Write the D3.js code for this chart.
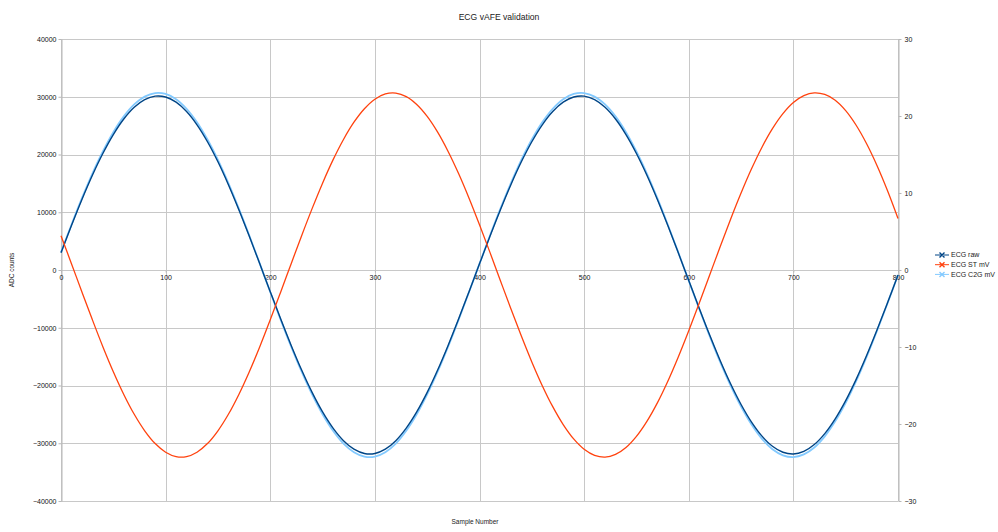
<!DOCTYPE html>
<html>
<head>
<meta charset="utf-8">
<script src="https://cdn.jsdelivr.net/npm/d3@7"></script>
<style>
  body { margin: 0; background: #fff; }
  text { font-family: "Liberation Sans", Arial, sans-serif; fill: #222; }
</style>
</head>
<body>
<script>
'use strict';

// sample index of each reading
const samples = [0,10,20,30,40,50,60,70,80,90,100,110,120,130,140,150,160,170,180,190,
  200,210,220,230,240,250,260,270,280,290,300,310,320,330,340,350,360,370,380,390,
  400,410,420,430,440,450,460,470,480,490,500,510,520,530,540,550,560,570,580,590,
  600,610,620,630,640,650,660,670,680,690,700,710,720,730,740,750,760,770,780,790,800];

// ECG raw, ADC counts (left axis)
const ecgRaw = [2982,7700,12214,16411,20178,23451,26142,28173,29503,30101,
  29952,29056,27441,25144,22208,18733,14775,10438,5831,1063,
  -3754,-8500,-13064,-17329,-21201,-24580,-27382,-29552,-31025,-31772,
  -31772,-31025,-29552,-27382,-24580,-21201,-17329,-13064,-8500,-3754,
  1063,5831,10438,14775,18733,22208,25144,27441,29056,29952,
  30101,29503,28173,26142,23451,20178,16411,12214,7700,2982,
  -1829,-6616,-11266,-15664,-19704,-23284,-26335,-28765,-30523,-31561,
  -31862,-31412,-30225,-28331,-25774,-22618,-18935,-14809,-10354,-5667,-865];

// ECG ST, mV (right axis)
const ecgST = [4.46,0.82,-2.85,-6.47,-9.96,-13.21,-16.16,-18.74,-20.88,-22.54,
  -23.66,-24.23,-24.23,-23.66,-22.54,-20.88,-18.74,-16.16,-13.21,-9.96,
  -6.47,-2.85,0.82,4.46,7.97,11.28,14.30,16.95,19.19,20.94,
  22.18,22.86,22.97,22.52,21.50,19.95,17.90,15.40,12.53,9.33,
  5.88,2.29,-1.39,-5.04,-8.58,-11.94,-15.02,-17.75,-20.08,-21.94,
  -23.28,-24.07,-24.30,-23.95,-23.05,-21.60,-19.65,-17.25,-14.44,-11.29,
  -7.89,-4.31,-0.65,3.01,6.59,9.99,13.14,15.95,18.35,20.30,
  21.75,22.65,23.00,22.80,22.05,20.70,18.80,16.40,13.55,10.30,6.70];

// ECG C2G, mV (right axis)
const ecgC2G = [2.29,5.88,9.33,12.53,15.40,17.90,19.95,21.50,22.52,22.97,
  22.86,22.18,20.94,19.19,16.95,14.30,11.28,7.97,4.46,0.82,
  -2.85,-6.47,-9.96,-13.21,-16.16,-18.74,-20.88,-22.54,-23.66,-24.23,
  -24.23,-23.66,-22.54,-20.88,-18.74,-16.16,-13.21,-9.96,-6.47,-2.85,
  0.82,4.46,7.97,11.28,14.30,16.95,19.19,20.94,22.18,22.86,
  22.97,22.52,21.50,19.95,17.90,15.40,12.53,9.33,5.88,2.29,
  -1.39,-5.04,-8.58,-11.94,-15.02,-17.75,-20.08,-21.94,-23.28,-24.07,
  -24.30,-23.95,-23.05,-21.60,-19.65,-17.25,-14.44,-11.29,-7.89,-4.31,-0.65];

const xTicks = [0,100,200,300,400,500,600,700,800];
const leftTicks = [-40000,-30000,-20000,-10000,0,10000,20000,30000,40000];
const rightTicks = [-30,-20,-10,0,10,20,30];
const seriesNames = ['ECG raw', 'ECG ST mV', 'ECG C2G mV'];
const seriesColors = ['#004586', '#ff420e', '#83caff'];

const width = 998, height = 532;
const plotLeft = 61, plotRight = 898, plotTop = 39, plotBottom = 501;

const svg = d3.select('body').append('svg')
  .attr('width', width)
  .attr('height', height);

const x = d3.scaleLinear().domain([0, 800]).range([plotLeft, plotRight]);
const yLeft = d3.scaleLinear().domain([-40000, 40000]).range([plotBottom, plotTop]);
const yRight = d3.scaleLinear().domain([-30, 30]).range([plotBottom, plotTop]);

// title
svg.append('text')
  .attr('x', 499)
  .attr('y', 20)
  .attr('text-anchor', 'middle')
  .style('font-size', '8.6px')
  .text('ECG vAFE validation');

// grid
const grid = svg.append('g').attr('stroke', '#c8c8c8').attr('stroke-width', 1);
grid.selectAll('.hgrid')
  .data(leftTicks)
  .enter().append('line')
    .attr('x1', plotLeft).attr('x2', plotRight)
    .attr('y1', d => Math.round(yLeft(d)) + 0.5)
    .attr('y2', d => Math.round(yLeft(d)) + 0.5);
grid.selectAll('.vgrid')
  .data(xTicks)
  .enter().append('line')
    .attr('y1', plotTop).attr('y2', plotBottom)
    .attr('x1', d => Math.round(x(d)) + 0.5)
    .attr('x2', d => Math.round(x(d)) + 0.5);

function styleAxis(g) {
  g.selectAll('path').attr('stroke', '#b8b8b8');
  g.selectAll('line').attr('stroke', '#b8b8b8');
  g.selectAll('text').style('font-size', '7px').style('fill', '#111');
}

// left axis
svg.append('g')
  .attr('transform', 'translate(' + (plotLeft + 0.5) + ',0)')
  .call(d3.axisLeft(yLeft).tickValues(leftTicks).tickFormat(d3.format('d'))
    .tickSize(3).tickSizeOuter(0).tickPadding(2))
  .call(styleAxis);

// right axis
svg.append('g')
  .attr('transform', 'translate(' + (plotRight + 0.5) + ',0)')
  .call(d3.axisRight(yRight).tickValues(rightTicks).tickFormat(d3.format('d'))
    .tickSize(3).tickSizeOuter(0).tickPadding(3))
  .call(styleAxis);

// x axis on the zero line
svg.append('g')
  .attr('transform', 'translate(0,' + (Math.round(yLeft(0)) + 0.5) + ')')
  .call(d3.axisBottom(x).tickValues(xTicks).tickSize(2).tickSizeOuter(0).tickPadding(3))
  .call(styleAxis)
  .call(g => g.select('.domain').remove());

// axis titles
svg.append('text')
  .attr('transform', 'translate(14,' + ((plotTop + plotBottom) / 2) + ')rotate(-90)')
  .attr('text-anchor', 'middle')
  .style('font-size', '6.5px')
  .text('ADC counts');

svg.append('text')
  .attr('x', 475)
  .attr('y', 524)
  .attr('text-anchor', 'middle')
  .style('font-size', '6.5px')
  .text('Sample Number');

// series
const rows = samples.map((s, i) => ({ s: s, raw: ecgRaw[i], st: ecgST[i], c2g: ecgC2G[i] }));

const lineRaw = d3.line().x(d => x(d.s)).y(d => yLeft(d.raw)).curve(d3.curveCatmullRom);
const lineST = d3.line().x(d => x(d.s)).y(d => yRight(d.st)).curve(d3.curveCatmullRom);
const lineC2G = d3.line().x(d => x(d.s)).y(d => yRight(d.c2g)).curve(d3.curveCatmullRom);

svg.append('path')
  .datum(rows)
  .attr('d', lineC2G)
  .attr('fill', 'none')
  .attr('stroke', seriesColors[2])
  .attr('stroke-width', 1.8);

svg.append('path')
  .datum(rows)
  .attr('d', lineRaw)
  .attr('fill', 'none')
  .attr('stroke', seriesColors[0])
  .attr('stroke-width', 1.4);

svg.append('path')
  .datum(rows)
  .attr('d', lineST)
  .attr('fill', 'none')
  .attr('stroke', seriesColors[1])
  .attr('stroke-width', 1.3);

// legend
const legend = svg.append('g').attr('transform', 'translate(935,255)');
seriesNames.forEach(function(name, i) {
  const y = i * 9.7;
  legend.append('line')
    .attr('x1', 0).attr('x2', 14)
    .attr('y1', y).attr('y2', y)
    .attr('stroke', seriesColors[i])
    .attr('stroke-width', 1);
  legend.append('path')
    .attr('d', 'M4.5,' + (y - 2.5) + 'L9.5,' + (y + 2.5) + 'M4.5,' + (y + 2.5) + 'L9.5,' + (y - 2.5))
    .attr('stroke', seriesColors[i])
    .attr('stroke-width', 1.4);
  legend.append('text')
    .attr('x', 16)
    .attr('y', y)
    .attr('dy', '0.35em')
    .style('font-size', '7px')
    .text(name);
});
</script>
</body>
</html>
